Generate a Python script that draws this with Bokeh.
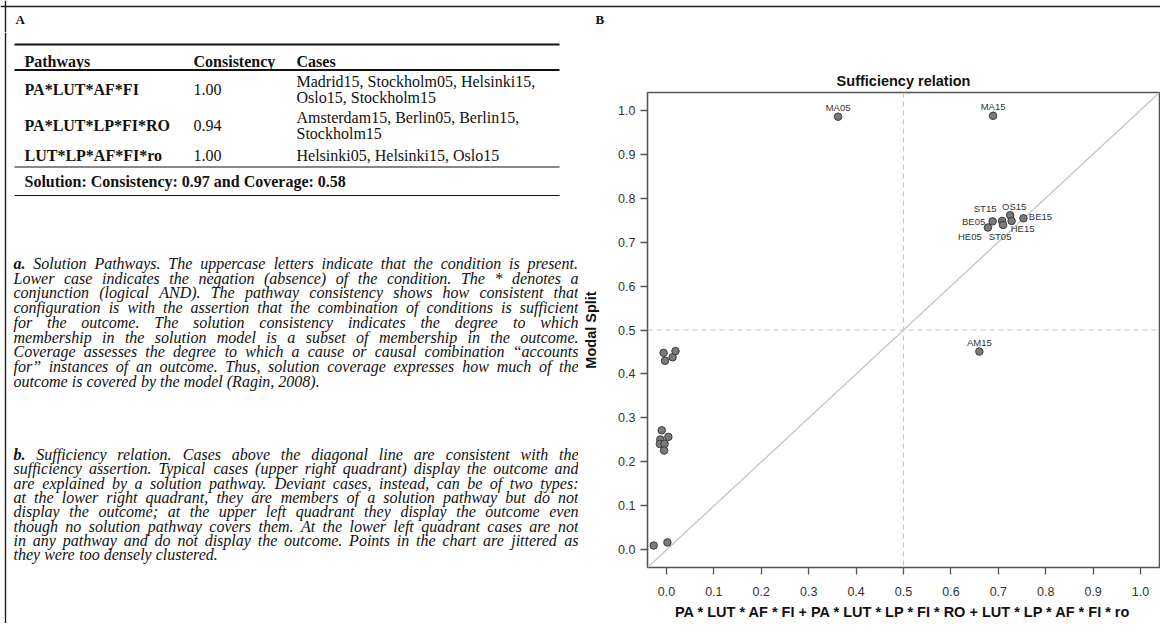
from bokeh.plotting import figure
from bokeh.models import Range1d, Span, Slope, FixedTicker, PrintfTickFormatter, ColumnDataSource
from bokeh.layouts import column, row
from bokeh.embed import file_html
from bokeh.resources import INLINE
from bokeh.core.properties import value

# ---------------- data ----------------
case_names = ["MA05", "MA15", "HE05", "BE05", "ST15", "ST05", "OS15", "HE15", "BE15", "AM15",
              "", "", "", "", "", "", "", "", "", "", "", ""]
solution_membership = [0.362, 0.689, 0.678, 0.688, 0.708, 0.710, 0.725, 0.728, 0.753, 0.660,
                       -0.006, -0.003, 0.013, 0.019, -0.010, -0.013, -0.014, -0.004, 0.004, -0.005,
                       -0.027, 0.002]
modal_split = [0.985, 0.987, 0.733, 0.747, 0.748, 0.739, 0.761, 0.748, 0.754, 0.451,
               0.448, 0.430, 0.438, 0.452, 0.272, 0.251, 0.241, 0.241, 0.257, 0.226,
               0.010, 0.017]
x_ticks = [0.0, 0.1, 0.2, 0.3, 0.4, 0.5, 0.6, 0.7, 0.8, 0.9, 1.0]
y_ticks = [0.0, 0.1, 0.2, 0.3, 0.4, 0.5, 0.6, 0.7, 0.8, 0.9, 1.0]

pathways = ["PA*LUT*AF*FI", "PA*LUT*LP*FI*RO", "LUT*LP*AF*FI*ro"]
consistency = ["1.00", "0.94", "1.00"]
cases = [["Madrid15, Stockholm05, Helsinki15,", "Oslo15, Stockholm15"],
         ["Amsterdam15, Berlin05, Berlin15,", "Stockholm15"],
         ["Helsinki05, Helsinki15, Oslo15"]]
table_header = ["Pathways", "Consistency", "Cases"]
solution_text = "Solution: Consistency: 0.97 and Coverage: 0.58"

note_a_lead = "a."
note_a = [
    "Solution Pathways. The uppercase letters indicate that the condition is present.",
    "Lower case indicates the negation (absence) of the condition. The * denotes a",
    "conjunction (logical AND). The pathway consistency shows how consistent that",
    "configuration is with the assertion that the combination of conditions is sufficient",
    "for the outcome. The solution consistency indicates the degree to which",
    "membership in the solution model is a subset of membership in the outcome.",
    "Coverage assesses the degree to which a cause or causal combination \u201caccounts",
    "for\u201d instances of an outcome. Thus, solution coverage expresses how much of the",
    "outcome is covered by the model (Ragin, 2008).",
]
note_b_lead = "b."
note_b = [
    "Sufficiency relation. Cases above the diagonal line are consistent with the",
    "sufficiency assertion. Typical cases (upper right quadrant) display the outcome and",
    "are explained by a solution pathway. Deviant cases, instead, can be of two types:",
    "at the lower right quadrant, they are members of a solution pathway but do not",
    "display the outcome; at the upper left quadrant they display the outcome even",
    "though no solution pathway covers them. At the lower left quadrant cases are not",
    "in any pathway and do not display the outcome. Points in the chart are jittered as",
    "they were too densely clustered.",
]

# label placement (pixel offsets, style only)
label_dx = [0, 0, -18, -19, -17, -3, 4, 11, 17, 0] + [0] * 12
label_dy = [-9, -9, 9, 0, -12, 12, -9, 8, -2, -9] + [0] * 12

SERIF = "Liberation Serif"
SANS = "Liberation Sans"
INK = "#111111"

# approximate advance widths (1/1000 em) of the italic serif face, for justification
_IT = {" ": 250, "!": 333, "'": 214, "(": 333, ")": 333, "*": 500, ",": 250, "-": 333, ".": 250,
       ":": 333, ";": 333, "\u201c": 556, "\u201d": 556,
       "A": 611, "B": 611, "C": 667, "D": 722, "E": 611, "F": 611, "G": 722, "H": 722, "I": 333,
       "J": 444, "K": 667, "L": 556, "M": 833, "N": 667, "O": 722, "P": 611, "Q": 722, "R": 611,
       "S": 500, "T": 556, "U": 722, "V": 611, "W": 833, "X": 611, "Y": 556, "Z": 556,
       "a": 500, "b": 500, "c": 444, "d": 500, "e": 444, "f": 278, "g": 500, "h": 500, "i": 278,
       "j": 278, "k": 444, "l": 278, "m": 722, "n": 500, "o": 500, "p": 500, "q": 500, "r": 389,
       "s": 389, "t": 278, "u": 500, "v": 444, "w": 667, "x": 444, "y": 444, "z": 389}


def em_width(s):
    return sum(_IT.get(c, 500) for c in s) / 1000.0


def put(fig, x, y, s, size, style="normal", align="left", font=SERIF, color=INK):
    fig.text(x=[x], y=[y], text=[s], text_font=value(font), text_font_size=size,
             text_font_style=style, text_align=align, text_baseline="middle", text_color=color)


def justified(fig, lead, lines, x_left, x_right, y0, dy, size):
    reg = dict(x=[], y=[], t=[])
    bold = dict(x=[], y=[], t=[])
    for i, line in enumerate(lines):
        y = y0 + i * dy
        words = line.split(" ")
        if i == 0:
            words = [lead] + words
        widths = [em_width(w) * size for w in words]
        gap = 0.25 * size
        if i < len(lines) - 1 and len(words) > 1:
            gap = max(gap, (x_right - x_left - sum(widths)) / (len(words) - 1))
        x = x_left
        for j, (w, wd) in enumerate(zip(words, widths)):
            tgt = bold if (i == 0 and j == 0) else reg
            tgt["x"].append(x)
            tgt["y"].append(y)
            tgt["t"].append(w)
            x += wd + gap
    for d, style in ((reg, "italic"), (bold, "bold italic")):
        fig.text(x="x", y="y", text="t", source=ColumnDataSource(d), text_font=value(SERIF),
                 text_font_size="%gpx" % size, text_font_style=style, text_align="left",
                 text_baseline="middle", text_color=INK)


def blank(fig):
    fig.grid.visible = False
    fig.outline_line_color = None
    fig.background_fill_color = "white"
    fig.border_fill_color = "white"
    fig.frame_align = False


# ---------------- header strip (A / B) ----------------
H = figure(width=1160, height=32, x_range=Range1d(0, 1160), y_range=Range1d(32, 0),
           output_backend="svg", toolbar_location=None, min_border=0,
           x_axis_location=None, y_axis_location=None)
blank(H)
H.add_layout(Span(location=6, dimension="width", line_color="#222222", line_width=1.4))
H.add_layout(Span(location=5, dimension="height", line_color="#222222", line_width=1.4))
put(H, 15, 19, "A", "13px", "bold")
put(H, 595, 19, "B", "13px", "bold")

# ---------------- left panel: table and notes ----------------
L = figure(width=578, height=591, x_range=Range1d(0, 578), y_range=Range1d(623, 32),
           output_backend="svg", toolbar_location=None, min_border=0,
           x_axis_location=None, y_axis_location=None)
blank(L)
L.add_layout(Span(location=5, dimension="height", line_color="#222222", line_width=1.4))

col_x = [24, 193, 296]
TF = "16px"
T_LEFT, T_RIGHT = 14, 559
L.segment(x0=[T_LEFT], y0=[44], x1=[T_RIGHT], y1=[44], line_color=INK, line_width=2.2)
for cx, h in zip(col_x, table_header):
    put(L, cx, 61, h, TF, "bold")
L.segment(x0=[T_LEFT], y0=[69.5], x1=[T_RIGHT], y1=[69.5], line_color=INK, line_width=1.8)

row_y = [89, 125, 154.5]
for ry, pw, cs, cl in zip(row_y, pathways, consistency, cases):
    put(L, col_x[0], ry, pw, TF, "bold")
    put(L, col_x[1], ry, cs, TF)
    if len(cl) == 2:
        put(L, col_x[2], ry - 8.2, cl[0], TF)
        put(L, col_x[2], ry + 8.2, cl[1], TF)
    else:
        put(L, col_x[2], ry, cl[0], TF)
L.segment(x0=[T_LEFT], y0=[166.5], x1=[T_RIGHT], y1=[166.5], line_color=INK, line_width=1.0)
put(L, col_x[0], 181, solution_text, TF, "bold")
L.segment(x0=[T_LEFT], y0=[195], x1=[T_RIGHT], y1=[195], line_color=INK, line_width=1.2)

NOTE_SIZE = 16
justified(L, note_a_lead, note_a, 13, 578, 263, 14.7, NOTE_SIZE)
justified(L, note_b_lead, note_b, 13, 578, 454, 14.3, NOTE_SIZE)

# ---------------- right panel: sufficiency plot ----------------
R = figure(width=582, height=591, x_range=Range1d(-0.04, 1.04), y_range=Range1d(-0.04, 1.04),
           output_backend="svg", toolbar_location=None,
           min_border_left=69, min_border_right=1, min_border_top=60, min_border_bottom=56,
           title="Sufficiency relation")
R.frame_align = False
R.background_fill_color = "white"
R.border_fill_color = "white"
R.grid.visible = False
R.outline_line_color = "#555555"
R.outline_line_width = 1.6
R.title.align = "center"
R.title.text_font = SANS
R.title.text_font_size = "14.5px"
R.title.text_font_style = "bold"
R.title.text_color = INK
R.title.standoff = 8

for ax, ticks in ((R.xaxis, x_ticks), (R.yaxis, y_ticks)):
    ax.ticker = FixedTicker(ticks=ticks)
    ax.formatter = PrintfTickFormatter(format="%.1f")
    ax.axis_line_color = None
    ax.major_tick_out = 7
    ax.major_tick_in = 0
    ax.major_tick_line_color = "#555555"
    ax.major_tick_line_width = 1.3
    ax.minor_tick_line_color = None
    ax.major_label_text_font = SANS
    ax.major_label_text_font_size = "12.5px"
    ax.major_label_text_color = "#333333"
    ax.axis_label_text_font = SANS
    ax.axis_label_text_font_style = "bold"
    ax.axis_label_text_font_size = "14.5px"
    ax.axis_label_text_color = INK

R.xaxis.axis_label = "PA * LUT * AF * FI + PA * LUT * LP * FI * RO + LUT * LP * AF * FI * ro"
R.xaxis.major_label_standoff = 12
R.xaxis.axis_label_standoff = 5
R.yaxis.axis_label = "Modal Split"
R.yaxis.major_label_standoff = 5
R.yaxis.axis_label_standoff = 16

R.add_layout(Slope(gradient=1, y_intercept=0, line_color="#c4c4c4", line_width=1.3, level="underlay"))
R.add_layout(Span(location=0.5, dimension="height", line_color="#c4c4c4", line_width=1.1,
                  line_dash="5 4", level="underlay"))
R.add_layout(Span(location=0.5, dimension="width", line_color="#c4c4c4", line_width=1.1,
                  line_dash="5 4", level="underlay"))

src = ColumnDataSource(dict(x=solution_membership, y=modal_split, name=case_names,
                            dx=label_dx, dy=label_dy))
R.scatter("x", "y", source=src, size=7.5, fill_color="#7a7a7a", line_color="#3a3a3a", line_width=1)
R.text("x", "y", text="name", source=src, x_offset="dx", y_offset="dy",
       text_font=value(SANS), text_font_size="9.5px", text_color="#333333",
       text_align="center", text_baseline="middle")

layout = column(H, row(L, R, spacing=0), spacing=0)
open("out.html", "w").write(file_html(layout, INLINE))
